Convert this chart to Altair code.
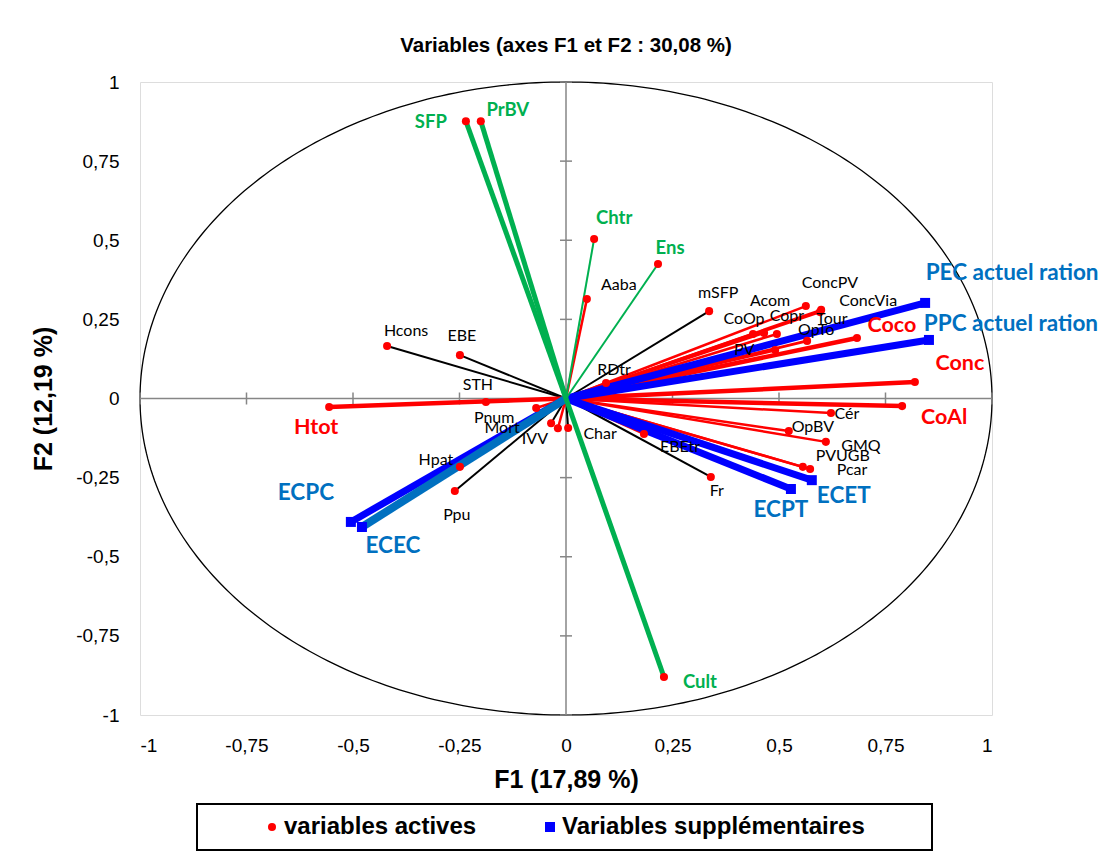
import numpy as np
import pandas as pd
import altair as alt

# ---- Active variables: correlations with F1 and F2 ----
active_names = ["SFP", "PrBV", "Chtr", "Ens", "Cult",
                "Hcons", "EBE", "mSFP", "Fr", "Ppu", "Hpat", "Mort", "Char",
                "Htot", "STH", "Pnum", "IVV", "Aaba", "RDtr",
                "ConcPV", "ConcVia", "Tour", "Acom", "CoOp", "Copr", "OpTo", "PV",
                "Coco", "Conc", "CoAl", "Cér", "OpBV", "GMQ", "PVUGB", "Pcar", "EBEtr"]
active_f1 = [-0.235, -0.200, 0.066, 0.216, 0.230,
             -0.420, -0.249, 0.336, 0.340, -0.261, -0.249, -0.035, 0.005,
             -0.556, -0.188, -0.070, -0.019, 0.049, 0.094,
             0.563, 0.599, 0.596, 0.465, 0.439, 0.495, 0.566, 0.491,
             0.683, 0.819, 0.789, 0.622, 0.523, 0.610, 0.556, 0.573, 0.183]
active_f2 = [0.876, 0.876, 0.504, 0.425, -0.880,
             0.166, 0.137, 0.276, -0.248, -0.292, -0.216, -0.078, -0.093,
             -0.027, -0.011, -0.030, -0.094, 0.314, 0.049,
             0.292, 0.280, 0.273, 0.207, 0.204, 0.204, 0.182, 0.153,
             0.191, 0.052, -0.024, -0.046, -0.103, -0.137, -0.216, -0.223, -0.112]

# ---- Supplementary variables ----
sup_names = ["PEC actuel ration", "PPC actuel ration", "ECET", "ECPT", "ECPC", "ECEC"]
sup_f1 = [0.843, 0.852, 0.577, 0.528, -0.505, -0.479]
sup_f2 = [0.302, 0.185, -0.258, -0.286, -0.390, -0.406]

tick_values = [-1, -0.75, -0.5, -0.25, 0, 0.25, 0.5, 0.75, 1]

# ---- Styling groups ----
RED, GREEN, BLACK, BLUE, BLUE_LABEL = "#FF0000", "#00B050", "#000000", "#0000FF", "#0070C0"
green_thick = {"SFP", "PrBV", "Cult"}
green_thin = {"Chtr", "Ens"}
black_vars = {"Hcons", "EBE", "mSFP", "Fr", "Ppu", "Hpat", "Mort", "Char"}
red_thick = {"Htot", "Coco", "Conc", "CoAl"}
red_mid = {"OpTo", "PV"}

# label offsets (pixels) relative to each arrow tip
label_shift = {
    "SFP": (-35, 1), "PrBV": (27, -11), "Chtr": (20, -21), "Ens": (12, -16), "Cult": (36, 5),
    "Hcons": (19, -15), "EBE": (2, -19), "mSFP": (9, -18), "Fr": (6, 14), "Ppu": (2, 24),
    "Hpat": (-24, -7), "Mort": (-49, 5), "Char": (32, 6),
    "Htot": (-13, 21), "STH": (-8, -17), "Pnum": (-42, 10), "IVV": (-23, 11),
    "Aaba": (32, -14), "RDtr": (8, -13),
    "ConcPV": (24, -23), "ConcVia": (47, -9), "Tour": (12, 7), "Acom": (6, -32),
    "CoOp": (-9, -15), "Copr": (10, -18), "OpTo": (9, -11), "PV": (-31, 0),
    "Coco": (35, -12), "Conc": (45, -18), "CoAl": (42, 12), "Cér": (16, 1),
    "OpBV": (24, -4), "GMQ": (35, 4), "PVUGB": (40, -11), "Pcar": (42, 1), "EBEtr": (36, 13),
    "PEC actuel ration": (87, -30), "PPC actuel ration": (82, -16),
    "ECET": (32, 16), "ECPT": (-10, 21), "ECPC": (-45, -29), "ECEC": (31, 19),
}


def line_style(name):
    if name in green_thick:
        return GREEN, 5.0, 3
    if name in green_thin:
        return GREEN, 2.0, 3
    if name in black_vars:
        return BLACK, 2.0, 0
    if name in red_thick:
        return RED, 4.5, 1
    if name in red_mid:
        return RED, 3.0, 0
    return RED, 2.5, 0


def label_style(name):
    if name in sup_names:
        return BLUE_LABEL, 22.5, True
    if name in green_thick or name in green_thin:
        return GREEN, 18.5, True
    if name in red_thick:
        return RED, 21.5, True
    return BLACK, 16, False


rows = []
for n, a, b in zip(active_names, active_f1, active_f2):
    lc, lw, z = line_style(n)
    rows.append(dict(name=n, F1=a, F2=b, o=0.0, kind="variables actives", lc=lc, lw=lw, z=z))
for n, a, b in zip(sup_names, sup_f1, sup_f2):
    lc = BLUE_LABEL if n == "ECEC" else BLUE
    lw = 8.0 if n == "ECEC" else 7.0
    rows.append(dict(name=n, F1=a, F2=b, o=0.0, kind="Variables supplémentaires",
                     lc=lc, lw=lw, z=2))
df = pd.DataFrame(rows)

# unit correlation circle
theta = np.linspace(0, 2 * np.pi, 361)
circle = pd.DataFrame({"F1": np.cos(theta), "F2": np.sin(theta), "t": np.arange(361)})

ticks_df = pd.DataFrame({"v": tick_values, "zero": 0.0})

AXIS_FONT = "Liberation Sans"
LABEL_FONT = "Lato"
GRAY = "#868686"

xscale = alt.Scale(domain=[-1, 1], nice=False, zero=False)
yscale = alt.Scale(domain=[-1, 1], nice=False, zero=False)
xaxis = alt.Axis(values=tick_values, grid=False, domain=False, ticks=False,
                 labelExpr="replace(toString(datum.value), '.', ',')",
                 labelFont=AXIS_FONT, labelFontSize=19, labelColor="black", labelPadding=21,
                 title="F1 (17,89 %)", titleFont=AXIS_FONT, titleFontSize=25, titleFontWeight="bold",
                 titleColor="black", titleY=64, titleBaseline="middle")
yaxis = alt.Axis(values=tick_values, grid=False, domain=False, ticks=False,
                 labelExpr="replace(toString(datum.value), '.', ',')",
                 labelFont=AXIS_FONT, labelFontSize=19, labelColor="black", labelPadding=21,
                 title="F2 (12,19 %)", titleFont=AXIS_FONT, titleFontSize=25, titleFontWeight="bold",
                 titleColor="black", titleX=-97, titleBaseline="middle")


def X(field):
    return alt.X(field, type="quantitative", scale=xscale, axis=xaxis)


def Y(field):
    return alt.Y(field, type="quantitative", scale=yscale, axis=yaxis)


circle_layer = alt.Chart(circle).mark_line(color="black", strokeWidth=1.3).encode(
    x=X("F1"), y=Y("F2"), order="t:Q")

zero_v = alt.Chart(ticks_df).transform_filter("datum.v == 0").mark_rule(
    color=GRAY, strokeWidth=1.5).encode(x=X("zero"))
zero_h = alt.Chart(ticks_df).transform_filter("datum.v == 0").mark_rule(
    color=GRAY, strokeWidth=1.5).encode(y=Y("zero"))
tick_x = alt.Chart(ticks_df).mark_point(
    shape="M0,-1L0,1", size=144, filled=False, color=GRAY, strokeWidth=1.5, opacity=1
).encode(x=X("v"), y=Y("zero"))
tick_y = alt.Chart(ticks_df).mark_point(
    shape="M-1,0L1,0", size=144, filled=False, color=GRAY, strokeWidth=1.5, opacity=1
).encode(x=X("zero"), y=Y("v"))


def arrows(z):
    return alt.Chart(df).transform_filter(f"datum.z == {z}").mark_rule().encode(
        x=X("F1"), y=Y("F2"), x2=alt.X2("o"), y2=alt.Y2("o"),
        color=alt.Color("lc:N", scale=None),
        strokeWidth=alt.StrokeWidth("lw:Q", scale=None))


kinds = ["variables actives", "Variables supplémentaires"]
legend = alt.Legend(title=None, orient="none", direction="horizontal",
                    legendX=120, legendY=733, columnPadding=61,
                    labelFont=AXIS_FONT, labelFontSize=24, labelLimit=500,
                    labelFontWeight="bold", labelColor="black",
                    labelOffset=0, symbolSize=60, padding=0)
tips = alt.Chart(df).mark_point(filled=True, opacity=1).encode(
    x=X("F1"), y=Y("F2"),
    color=alt.Color("kind:N", scale=alt.Scale(domain=kinds, range=[RED, BLUE]), legend=legend),
    shape=alt.Shape("kind:N", scale=alt.Scale(domain=kinds, range=["circle", "square"]),
                    legend=legend),
    size=alt.Size("kind:N", scale=alt.Scale(domain=kinds, range=[65, 100]), legend=None),
)

# one text layer per variable name, shifted off its arrow tip
label_layers = []
for n in active_names + sup_names:
    tc, ts, bold = label_style(n)
    dx, dy = label_shift[n]
    label_layers.append(
        alt.Chart(df).transform_filter(alt.datum.name == n).mark_text(
            font=LABEL_FONT, fontWeight="bold" if bold else "normal",
            fontSize=ts, color=tc, align="center", baseline="middle", dx=dx, dy=dy
        ).encode(x=X("F1"), y=Y("F2"), text="name:N")
    )

legend_box = alt.Chart(pd.DataFrame({"k": [0]})).mark_rect(
    fillOpacity=0, stroke="black", strokeWidth=2
).encode(x=alt.value(57), x2=alt.value(792), y=alt.value(722), y2=alt.value(768))

chart = alt.layer(
    circle_layer, zero_v, zero_h, tick_x, tick_y,
    arrows(0), arrows(1), arrows(2), arrows(3),
    tips, *label_layers, legend_box
).properties(
    width=852, height=633,
    title=alt.TitleParams("Variables (axes F1 et F2 : 30,08 %)", font=AXIS_FONT,
                          fontSize=20.5, fontWeight="bold", color="black", offset=17,
                          anchor="middle"),
    autosize=alt.AutoSizeParams(type="none"),
    padding={"left": 140, "top": 82, "right": 115, "bottom": 150},
).configure_view(stroke=GRAY, strokeWidth=2).configure(background="white")

chart.save("out.html", embed_options={"renderer": "svg", "actions": False})
